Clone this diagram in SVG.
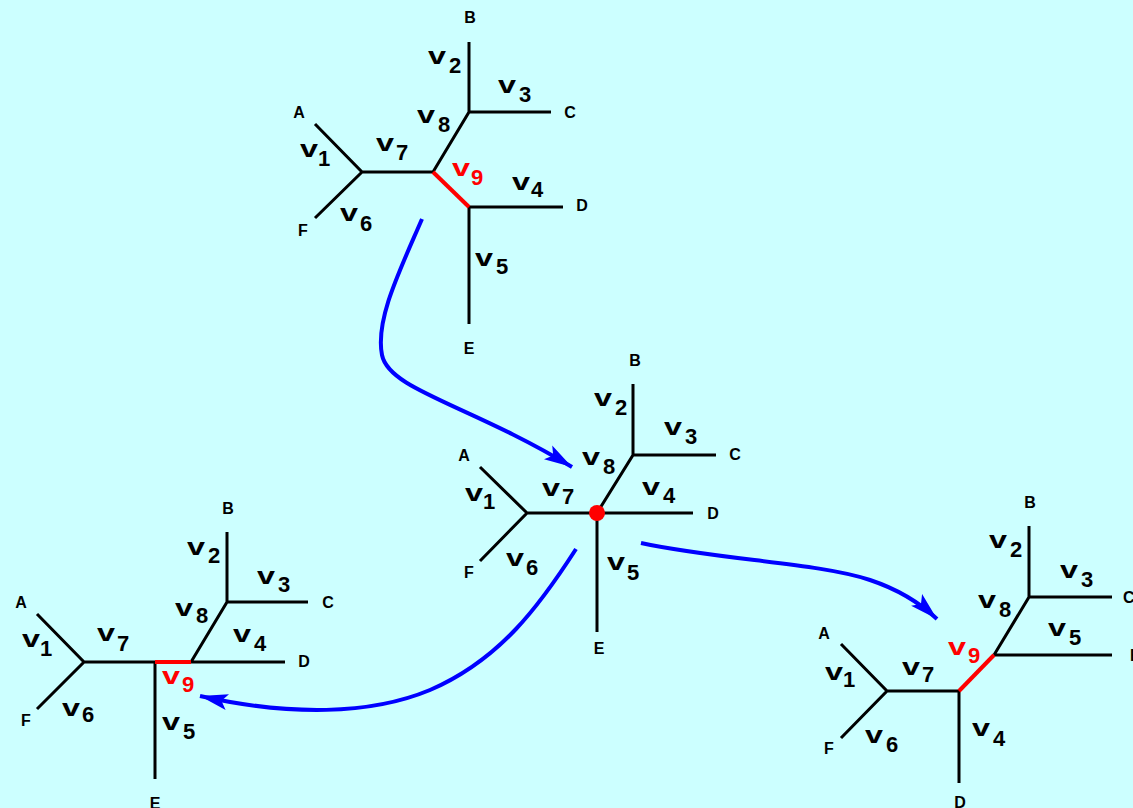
<svg xmlns="http://www.w3.org/2000/svg" width="1133" height="808" viewBox="0 0 1133 808">
<defs>
<style>
.e{stroke:#000;stroke-width:3;fill:none;stroke-linecap:butt}
.r{stroke:#f00;stroke-width:4;fill:none}
.a{stroke:#00f;stroke-width:4;fill:none}
.L{font-family:"Liberation Sans",Arial,sans-serif;font-weight:bold;font-size:16px;fill:#000;text-anchor:middle}
.v{font-family:"Liberation Sans",Arial,sans-serif;font-weight:bold;font-size:24px;fill:#000}
.s{font-family:"Liberation Sans",Arial,sans-serif;font-weight:bold;font-size:22px;fill:#000}
.red{fill:#f00}
</style>
<marker id="ah" markerUnits="userSpaceOnUse" markerWidth="30" markerHeight="18" refX="28" refY="9" orient="auto">
<path d="M0,1 L28,9 L0,17 L6,9 z" fill="#00f"/>
</marker>
</defs>
<rect width="1133" height="808" fill="#ccffff"/>

<g id="tree-top">
<path class="e" d="M315,124 L362,172 L315,218 M362,172 L433,172 L469,112 L469,42 M469,112 L551,112 M469,207 L563,207 M469,207 L469,324"/>
<path class="r" d="M433,172 L469,207"/>
<text class="L" x="470" y="23">B</text>
<text class="L" x="570" y="118">C</text>
<text class="L" x="299" y="118">A</text>
<text class="L" x="303" y="236">F</text>
<text class="L" x="582" y="211">D</text>
<text class="L" x="469" y="354">E</text>
<text class="v" x="428" y="64" textLength="18" lengthAdjust="spacingAndGlyphs">v</text><text class="s" x="449" y="73">2</text>
<text class="v" x="498" y="93" textLength="18" lengthAdjust="spacingAndGlyphs">v</text><text class="s" x="519" y="102">3</text>
<text class="v" x="417" y="123" textLength="18" lengthAdjust="spacingAndGlyphs">v</text><text class="s" x="438" y="132">8</text>
<text class="v" x="300" y="157" textLength="18" lengthAdjust="spacingAndGlyphs">v</text><text class="s" x="318" y="166">1</text>
<text class="v" x="376" y="151" textLength="18" lengthAdjust="spacingAndGlyphs">v</text><text class="s" x="396" y="160">7</text>
<text class="v" x="340" y="221" textLength="18" lengthAdjust="spacingAndGlyphs">v</text><text class="s" x="360" y="231">6</text>
<text class="v red" x="452" y="176" textLength="18" lengthAdjust="spacingAndGlyphs">v</text><text class="s red" x="471" y="185">9</text>
<text class="v" x="512" y="190" textLength="18" lengthAdjust="spacingAndGlyphs">v</text><text class="s" x="531" y="197">4</text>
<text class="v" x="475" y="266" textLength="18" lengthAdjust="spacingAndGlyphs">v</text><text class="s" x="496" y="274">5</text>
</g>

<g id="tree-middle">
<path class="e" d="M480,467 L527,513 L480,561 M527,513 L693,513 M597,513 L633,455 L633,384 M633,455 L716,455 M597,513 L597,632"/>
<circle cx="597" cy="513" r="8" fill="#f00"/>
<text class="L" x="635" y="366">B</text>
<text class="L" x="735" y="460">C</text>
<text class="L" x="464" y="461">A</text>
<text class="L" x="469" y="578">F</text>
<text class="L" x="713" y="519">D</text>
<text class="L" x="599" y="654">E</text>
<text class="v" x="594" y="406" textLength="18" lengthAdjust="spacingAndGlyphs">v</text><text class="s" x="615" y="415">2</text>
<text class="v" x="664" y="435" textLength="18" lengthAdjust="spacingAndGlyphs">v</text><text class="s" x="685" y="444">3</text>
<text class="v" x="582" y="465" textLength="18" lengthAdjust="spacingAndGlyphs">v</text><text class="s" x="603" y="474">8</text>
<text class="v" x="465" y="501" textLength="18" lengthAdjust="spacingAndGlyphs">v</text><text class="s" x="483" y="509">1</text>
<text class="v" x="542" y="496" textLength="18" lengthAdjust="spacingAndGlyphs">v</text><text class="s" x="562" y="504">7</text>
<text class="v" x="642" y="495" textLength="18" lengthAdjust="spacingAndGlyphs">v</text><text class="s" x="663" y="503">4</text>
<text class="v" x="506" y="566" textLength="18" lengthAdjust="spacingAndGlyphs">v</text><text class="s" x="526" y="575">6</text>
<text class="v" x="607" y="570" textLength="18" lengthAdjust="spacingAndGlyphs">v</text><text class="s" x="627" y="580">5</text>
</g>

<g id="tree-left">
<path class="e" d="M37,614 L84,662 L37,709 M84,662 L155,662 M191,662 L285,662 M191,662 L227,602 L227,532 M227,602 L308,602 M155,662 L155,779"/>
<path class="r" d="M155,662 L191,662"/>
<text class="L" x="228" y="514">B</text>
<text class="L" x="328" y="608">C</text>
<text class="L" x="21" y="608">A</text>
<text class="L" x="26" y="726">F</text>
<text class="L" x="304" y="667">D</text>
<text class="L" x="155" y="809">E</text>
<text class="v" x="187" y="555" textLength="18" lengthAdjust="spacingAndGlyphs">v</text><text class="s" x="208" y="563">2</text>
<text class="v" x="257" y="584" textLength="18" lengthAdjust="spacingAndGlyphs">v</text><text class="s" x="278" y="592">3</text>
<text class="v" x="175" y="616" textLength="18" lengthAdjust="spacingAndGlyphs">v</text><text class="s" x="196" y="623">8</text>
<text class="v" x="22" y="647" textLength="18" lengthAdjust="spacingAndGlyphs">v</text><text class="s" x="40" y="656">1</text>
<text class="v" x="97" y="641" textLength="18" lengthAdjust="spacingAndGlyphs">v</text><text class="s" x="117" y="651">7</text>
<text class="v" x="233" y="642" textLength="18" lengthAdjust="spacingAndGlyphs">v</text><text class="s" x="254" y="651">4</text>
<text class="v red" x="162" y="684" textLength="18" lengthAdjust="spacingAndGlyphs">v</text><text class="s red" x="182" y="692">9</text>
<text class="v" x="62" y="716" textLength="18" lengthAdjust="spacingAndGlyphs">v</text><text class="s" x="82" y="722">6</text>
<text class="v" x="162" y="730" textLength="18" lengthAdjust="spacingAndGlyphs">v</text><text class="s" x="183" y="739">5</text>
</g>

<g id="tree-right">
<path class="e" d="M841,644 L887,691 L841,738 M887,691 L959,691 L959,783 M994,655 L1112,655 M994,655 L1029,597 L1029,526 M1029,597 L1112,597"/>
<path class="r" d="M959,691 L994,655"/>
<text class="L" x="1030" y="508">B</text>
<text class="L" x="1123" y="603" style="text-anchor:start">C</text>
<text class="L" x="1130" y="661" style="text-anchor:start">E</text>
<text class="L" x="824" y="639">A</text>
<text class="L" x="829" y="754">F</text>
<text class="L" x="960" y="808">D</text>
<text class="v" x="989" y="548" textLength="18" lengthAdjust="spacingAndGlyphs">v</text><text class="s" x="1010" y="557">2</text>
<text class="v" x="1060" y="578" textLength="18" lengthAdjust="spacingAndGlyphs">v</text><text class="s" x="1081" y="587">3</text>
<text class="v" x="978" y="608" textLength="18" lengthAdjust="spacingAndGlyphs">v</text><text class="s" x="999" y="617">8</text>
<text class="v" x="1048" y="636" textLength="18" lengthAdjust="spacingAndGlyphs">v</text><text class="s" x="1069" y="645">5</text>
<text class="v red" x="948" y="655" textLength="18" lengthAdjust="spacingAndGlyphs">v</text><text class="s red" x="968" y="663">9</text>
<text class="v" x="825" y="680" textLength="18" lengthAdjust="spacingAndGlyphs">v</text><text class="s" x="843" y="687">1</text>
<text class="v" x="902" y="675" textLength="18" lengthAdjust="spacingAndGlyphs">v</text><text class="s" x="922" y="682">7</text>
<text class="v" x="865" y="743" textLength="18" lengthAdjust="spacingAndGlyphs">v</text><text class="s" x="886" y="752">6</text>
<text class="v" x="972" y="736" textLength="18" lengthAdjust="spacingAndGlyphs">v</text><text class="s" x="993" y="746">4</text>
</g>

<g id="connectors">
<path class="a" marker-end="url(#ah)" d="M422,219 C400,270 375,320 382,355 C389,390 470,405 572,467"/>
<path class="a" marker-end="url(#ah)" d="M576,549 C540,605 500,660 430,690 C370,715 290,716 200,696"/>
<path class="a" marker-end="url(#ah)" d="M641,543 C720,560 820,563 870,580 C900,590 920,603 937,619"/>
</g>
</svg>
